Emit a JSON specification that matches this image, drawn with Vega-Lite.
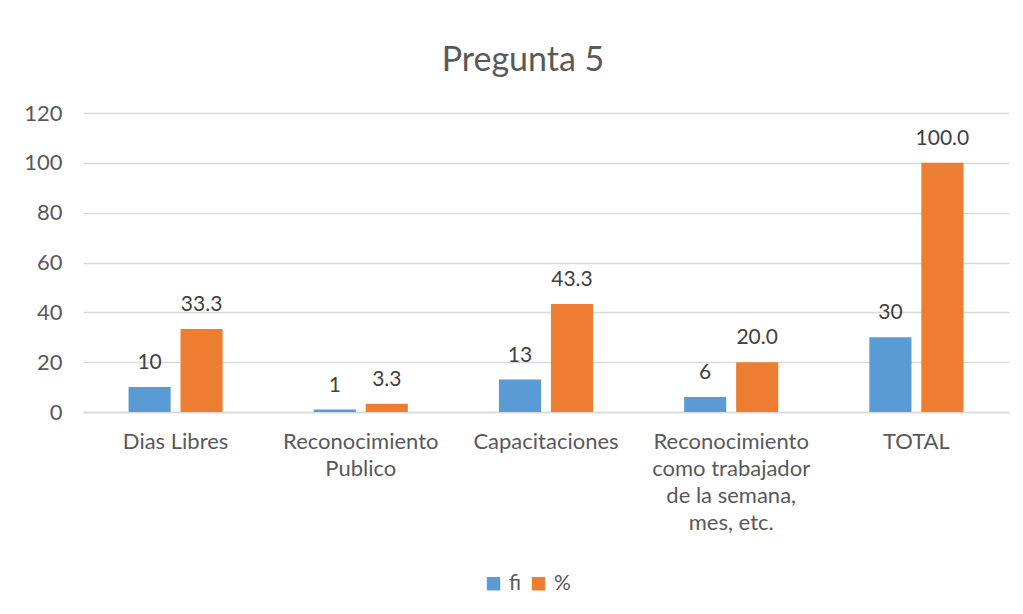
{
  "$schema": "https://vega.github.io/schema/vega-lite/v6.json",
  "width": 926,
  "height": 299,
  "autosize": {"type": "none"},
  "padding": {"left": 83, "top": 113, "right": 14, "bottom": 202},
  "background": "white",
  "config": {"view": {"stroke": null}, "font": "Lato"},
  "title": {"text": "Pregunta 5", "fontSize": 34, "font": "Lato", "fontWeight": "normal", "color": "#595959", "offset": 24, "dx": -23},
  "data": {"values": [
    {"categoria": "Dias Libres", "serie": "fi", "valor": 10},
    {"categoria": "Dias Libres", "serie": "%", "valor": 33.3},
    {"categoria": "Reconocimiento Publico", "serie": "fi", "valor": 1},
    {"categoria": "Reconocimiento Publico", "serie": "%", "valor": 3.3},
    {"categoria": "Capacitaciones", "serie": "fi", "valor": 13},
    {"categoria": "Capacitaciones", "serie": "%", "valor": 43.3},
    {"categoria": "Reconocimiento como trabajador de la semana, mes, etc.", "serie": "fi", "valor": 6},
    {"categoria": "Reconocimiento como trabajador de la semana, mes, etc.", "serie": "%", "valor": 20.0},
    {"categoria": "TOTAL", "serie": "fi", "valor": 30},
    {"categoria": "TOTAL", "serie": "%", "valor": 100.0}
  ]},
  "encoding": {
    "x": {
      "field": "categoria", "type": "nominal",
      "sort": ["Dias Libres", "Reconocimiento Publico", "Capacitaciones", "Reconocimiento como trabajador de la semana, mes, etc.", "TOTAL"],
      "scale": {"paddingInner": 0.492, "paddingOuter": 0.246},
      "axis": {
        "title": null, "labelAngle": 0, "ticks": false, "grid": false,
        "domainColor": "#d9d9d9", "domainWidth": 1.5,
        "labelFontSize": 22, "labelColor": "#595959", "labelFont": "Lato",
        "labelPadding": 19, "labelLineHeight": 27, "labelBaseline": "top",
        "labelExpr": "datum.value == 'Reconocimiento Publico' ? ['Reconocimiento', 'Publico'] : datum.value == 'Reconocimiento como trabajador de la semana, mes, etc.' ? ['Reconocimiento', 'como trabajador', 'de la semana,', 'mes, etc.'] : datum.value"
      }
    },
    "xOffset": {"field": "serie", "type": "nominal", "sort": ["fi", "%"], "scale": {"domain": ["fi", "%"], "paddingInner": 0.19}},
    "y": {
      "field": "valor", "type": "quantitative",
      "scale": {"domain": [0, 120]},
      "axis": {
        "title": null, "values": [0, 20, 40, 60, 80, 100, 120], "ticks": false, "domain": false,
        "gridColor": "#d9d9d9", "gridWidth": 1.5,
        "labelFontSize": 22, "labelColor": "#595959", "labelFont": "Lato", "labelPadding": 21
      }
    }
  },
  "layer": [
    {
      "mark": {"type": "bar"},
      "encoding": {
        "color": {
          "field": "serie", "type": "nominal", "sort": ["fi", "%"],
          "scale": {"domain": ["fi", "%"], "range": ["#5B9BD5", "#ED7D31"]},
          "legend": {
            "title": null, "orient": "none", "direction": "horizontal",
            "legendX": 400, "legendY": 460,
            "symbolType": "square", "symbolSize": 180, "symbolStrokeWidth": 0,
            "labelFontSize": 21, "labelColor": "#595959", "labelFont": "Lato",
            "columnPadding": 6, "labelOffset": 5
          }
        }
      }
    },
    {
      "transform": [{"filter": "datum.serie == 'fi'"}],
      "mark": {"type": "text", "baseline": "alphabetic", "dy": -18, "fontSize": 21, "color": "#404040", "font": "Lato"},
      "encoding": {"text": {"field": "valor", "type": "quantitative", "format": "d"}}
    },
    {
      "transform": [{"filter": "datum.serie == '%'"}],
      "mark": {"type": "text", "baseline": "alphabetic", "dy": -18, "fontSize": 21, "color": "#404040", "font": "Lato"},
      "encoding": {"text": {"field": "valor", "type": "quantitative", "format": ".1f"}}
    }
  ]
}
